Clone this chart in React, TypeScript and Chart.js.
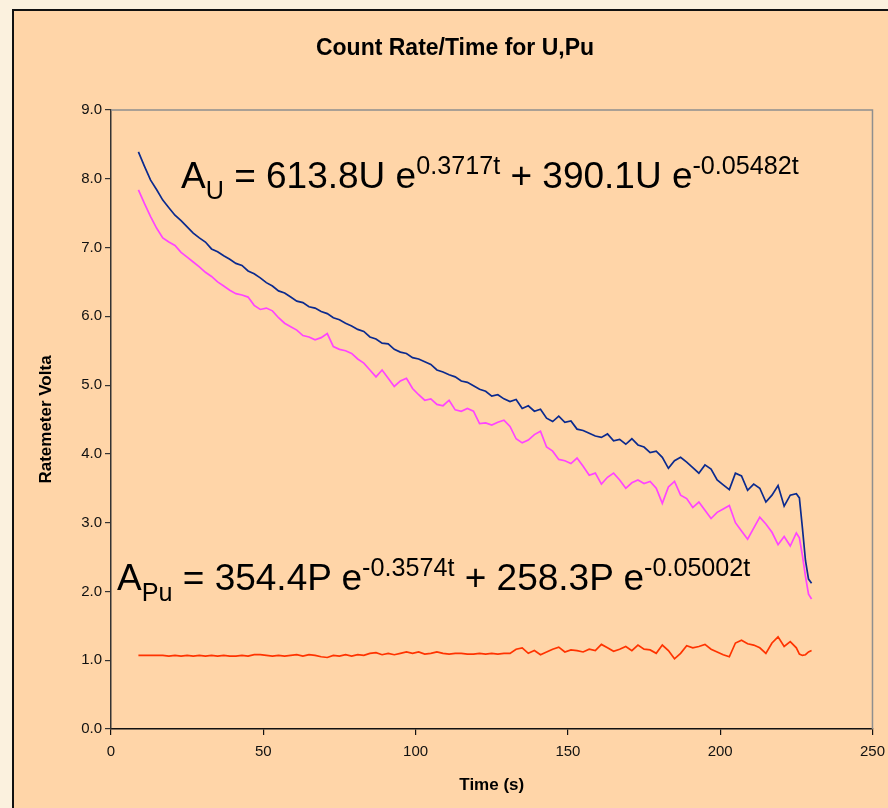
import React, { useEffect, useRef } from 'react';
import { Chart, registerables } from 'chart.js';

Chart.register(...registerables);

// ---- data ----
const TIME_S = [
  9, 11, 13, 15, 17, 19, 21, 23, 25, 27,
  29, 31, 33, 35, 37, 39, 41, 43, 45, 47,
  49, 51, 53, 55, 57, 59, 61, 63, 65, 67,
  69, 71, 73, 75, 77, 79, 81, 83, 85, 87,
  89, 91, 93, 95, 97, 99, 101, 103, 105, 107,
  109, 111, 113, 115, 117, 119, 121, 123, 125, 127,
  129, 131, 133, 135, 137, 139, 141, 143, 145, 147,
  149, 151, 153, 155, 157, 159, 161, 163, 165, 167,
  169, 171, 173, 175, 177, 179, 181, 183, 185, 187,
  189, 191, 193, 195, 197, 199, 201, 203, 205, 207,
  209, 211, 213, 215, 217, 219, 221, 223, 225,
  226, 227, 228, 229, 230,
];

const URANIUM_V = [
  8.39, 8.18, 7.98, 7.84, 7.69, 7.58, 7.47, 7.39, 7.30, 7.21,
  7.14, 7.08, 6.98, 6.94, 6.88, 6.83, 6.77, 6.74, 6.66, 6.62,
  6.56, 6.49, 6.44, 6.37, 6.34, 6.28, 6.22, 6.20, 6.14, 6.12,
  6.07, 6.04, 5.98, 5.95, 5.90, 5.86, 5.81, 5.78, 5.70, 5.67,
  5.61, 5.60, 5.52, 5.48, 5.46, 5.40, 5.38, 5.34, 5.30, 5.22,
  5.19, 5.15, 5.12, 5.06, 5.04, 4.99, 4.94, 4.91, 4.84, 4.86,
  4.80, 4.76, 4.79, 4.66, 4.70, 4.62, 4.65, 4.52, 4.47, 4.55,
  4.46, 4.48, 4.36, 4.34, 4.30, 4.26, 4.24, 4.29, 4.19, 4.21,
  4.14, 4.22, 4.13, 4.10, 4.02, 4.04, 3.95, 3.79, 3.90, 3.95,
  3.88, 3.80, 3.72, 3.84, 3.78, 3.62, 3.55, 3.48, 3.72, 3.68,
  3.47, 3.56, 3.50, 3.30, 3.40, 3.54, 3.24, 3.40, 3.42,
  3.36, 2.92, 2.45, 2.18, 2.12,
];

const PLUTONIUM_V = [
  7.84, 7.64, 7.45, 7.28, 7.14, 7.08, 7.03, 6.93, 6.86, 6.79,
  6.72, 6.64, 6.58, 6.50, 6.44, 6.38, 6.33, 6.31, 6.28, 6.16,
  6.10, 6.12, 6.08, 5.98, 5.90, 5.85, 5.80, 5.72, 5.70, 5.66,
  5.69, 5.75, 5.56, 5.52, 5.50, 5.46, 5.38, 5.32, 5.22, 5.12,
  5.22, 5.10, 4.98, 5.06, 5.10, 4.95, 4.86, 4.78, 4.80, 4.72,
  4.70, 4.78, 4.64, 4.62, 4.66, 4.62, 4.44, 4.45, 4.42, 4.46,
  4.49, 4.40, 4.22, 4.16, 4.20, 4.28, 4.33, 4.10, 4.04, 3.92,
  3.90, 3.86, 3.94, 3.82, 3.69, 3.72, 3.56, 3.66, 3.72, 3.62,
  3.50, 3.58, 3.62, 3.57, 3.60, 3.50, 3.28, 3.52, 3.60, 3.40,
  3.35, 3.22, 3.30, 3.18, 3.06, 3.15, 3.20, 3.25, 3.00, 2.88,
  2.76, 2.92, 3.08, 2.98, 2.86, 2.68, 2.80, 2.66, 2.85,
  2.78, 2.52, 2.22, 1.96, 1.89,
];

const BACKGROUND_V = [
  1.07, 1.07, 1.07, 1.07, 1.07, 1.06, 1.07, 1.06, 1.07, 1.06,
  1.07, 1.06, 1.07, 1.06, 1.07, 1.06, 1.06, 1.07, 1.06, 1.08,
  1.08, 1.07, 1.06, 1.07, 1.06, 1.07, 1.08, 1.06, 1.08, 1.07,
  1.05, 1.04, 1.07, 1.06, 1.08, 1.06, 1.08, 1.07, 1.10, 1.11,
  1.08, 1.10, 1.08, 1.10, 1.12, 1.10, 1.12, 1.09, 1.10, 1.12,
  1.10, 1.09, 1.10, 1.10, 1.09, 1.09, 1.10, 1.09, 1.10, 1.09,
  1.10, 1.10, 1.16, 1.18, 1.10, 1.14, 1.08, 1.12, 1.16, 1.19,
  1.12, 1.15, 1.14, 1.12, 1.16, 1.14, 1.23, 1.18, 1.13, 1.16,
  1.20, 1.14, 1.22, 1.16, 1.15, 1.10, 1.22, 1.14, 1.02, 1.10,
  1.21, 1.18, 1.20, 1.23, 1.16, 1.12, 1.08, 1.05, 1.25, 1.29,
  1.24, 1.22, 1.18, 1.10, 1.25, 1.34, 1.20, 1.27, 1.18,
  1.09, 1.07, 1.08, 1.12, 1.14,
];

const X_MIN = 0;
const X_MAX = 250;
const X_STEP = 50;
const Y_MIN = 0;
const Y_MAX = 9;
const Y_STEP = 1;

const TITLE = 'Count Rate/Time for U,Pu';
const X_TITLE = 'Time (s)';
const Y_TITLE = 'Ratemeter Volta';

// ---- styles ----
const FONT = 'Liberation Sans, Arial, Helvetica, sans-serif';
const PEACH = '#FFD5A8';
const PAGE = '#FBF1DE';
const BLUE = '#0B2A8E';
const PINK = '#FF44FF';
const RED = '#FF3300';

const plotBorder = {
  id: 'plotBorder',
  beforeDatasetsDraw(chart: any) {
    const { ctx, chartArea } = chart;
    ctx.save();
    ctx.strokeStyle = '#8f8f8f';
    ctx.lineWidth = 1.5;
    ctx.beginPath();
    ctx.moveTo(chartArea.left, chartArea.top);
    ctx.lineTo(chartArea.right, chartArea.top);
    ctx.lineTo(chartArea.right, chartArea.bottom);
    ctx.stroke();
    ctx.restore();
  },
};

const toPoints = (vals: number[]) => vals.map((v, i) => ({ x: TIME_S[i], y: v }));

const eqStyle: React.CSSProperties = {
  position: 'absolute',
  fontFamily: FONT,
  fontSize: 37,
  lineHeight: '37px',
  color: '#000',
  whiteSpace: 'nowrap',
};
const supStyle: React.CSSProperties = { fontSize: '0.68em', position: 'relative', top: -14 };
const subStyle: React.CSSProperties = { fontSize: '0.68em', position: 'relative', top: 11 };

export default function App() {
  const ref = useRef<HTMLCanvasElement>(null);

  useEffect(() => {
    if (!ref.current) return;
    const chart = new Chart(ref.current, {
      type: 'line',
      data: {
        datasets: [
          {
            label: 'U',
            data: toPoints(URANIUM_V),
            borderColor: BLUE,
            borderWidth: 1.7,
            pointRadius: 0,
            tension: 0,
          },
          {
            label: 'Pu',
            data: toPoints(PLUTONIUM_V),
            borderColor: PINK,
            borderWidth: 1.7,
            pointRadius: 0,
            tension: 0,
          },
          {
            label: 'Background',
            data: toPoints(BACKGROUND_V),
            borderColor: RED,
            borderWidth: 1.7,
            pointRadius: 0,
            tension: 0,
          },
        ],
      },
      options: {
        responsive: false,
        animation: false,
        devicePixelRatio: 1,
        layout: { padding: { left: 37, right: 15, top: 20, bottom: 0 } },
        plugins: {
          legend: { display: false },
          tooltip: { enabled: false },
          title: {
            display: true,
            text: TITLE,
            color: '#000',
            font: { family: FONT, size: 23, weight: 'bold' },
            padding: { top: 15, bottom: 47.4 },
          },
        },
        scales: {
          x: {
            type: 'linear',
            min: X_MIN,
            max: X_MAX,
            ticks: {
              stepSize: X_STEP,
              color: '#111',
              font: { family: FONT, size: 15, lineHeight: '28px' },
              padding: 3,
              maxRotation: 0,
            },
            grid: { drawOnChartArea: false, tickLength: 6, color: '#111', lineWidth: 1.2 },
            border: { color: '#111', width: 1.5 },
            title: {
              display: true,
              text: X_TITLE,
              color: '#000',
              font: { family: FONT, size: 17, weight: 'bold' },
              padding: { top: 0, bottom: 12 },
            },
            afterFit(scale: any) {
              scale.height = 79;
            },
          },
          y: {
            type: 'linear',
            min: Y_MIN,
            max: Y_MAX,
            ticks: {
              stepSize: Y_STEP,
              color: '#111',
              font: { family: FONT, size: 15 },
              padding: 3,
              callback: (v: any) => Number(v).toFixed(1),
            },
            grid: { drawOnChartArea: false, tickLength: 6, color: '#333', lineWidth: 1.2 },
            border: { color: '#333', width: 1.5 },
            title: {
              display: true,
              text: Y_TITLE,
              color: '#000',
              font: { family: FONT, size: 17, weight: 'bold' },
              padding: { top: -1, bottom: 4 },
            },
            afterFit(scale: any) {
              scale.width = 74;
            },
          },
        },
      },
      plugins: [plotBorder],
    });
    return () => chart.destroy();
  }, []);

  return (
    <div style={{ position: 'fixed', left: 0, top: 0, width: 888, height: 808, background: PAGE, overflow: 'hidden' }}>
      <div
        style={{
          position: 'absolute',
          left: 12,
          top: 9,
          width: 900,
          height: 820,
          border: '2px solid #111',
          background: PEACH,
        }}
      />
      <canvas ref={ref} width={888} height={808} style={{ position: 'absolute', left: 0, top: 0 }} />
      <div style={{ ...eqStyle, left: 181, top: 157 }}>
        A<span style={subStyle}>U</span> = 613.8U e<span style={supStyle}>0.3717t</span> + 390.1U e
        <span style={supStyle}>-0.05482t</span>
      </div>
      <div style={{ ...eqStyle, left: 117, top: 559 }}>
        A<span style={subStyle}>Pu</span> = 354.4P e<span style={supStyle}>-0.3574t</span> + 258.3P e
        <span style={supStyle}>-0.05002t</span>
      </div>
    </div>
  );
}
